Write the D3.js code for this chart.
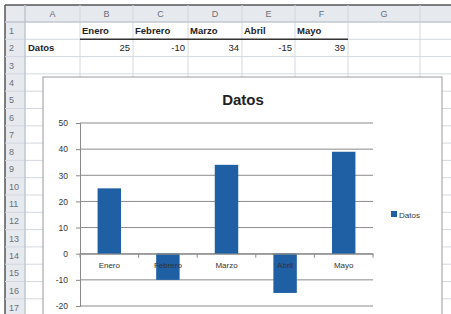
<!DOCTYPE html>
<html><head><meta charset="utf-8">
<script src="https://cdn.jsdelivr.net/npm/d3@7"></script>
<style>html,body{margin:0;padding:0;background:#fff;overflow:hidden}</style>
</head><body>
<svg id="c" width="451" height="314"></svg>
<script>
const categories = ["Enero", "Febrero", "Marzo", "Abril", "Mayo"];
const values = [25, -10, 34, -15, 39];
const seriesName = "Datos";
const yTicks = [-20, -10, 0, 10, 20, 30, 40, 50];
const columnLetters = ["A", "B", "C", "D", "E", "F", "G", ""];
const rowNumbers = d3.range(1, 18);

(function () {
const svg = d3.select("#c");
const font = "'Liberation Sans', Arial, sans-serif";

// ---- Spreadsheet grid ----
const colEdges = [25, 80, 133, 188, 242, 295, 348, 420, 460];
const sheetTop = 5, headH = 17, rowH = 17.3;
const rowTop = i => sheetTop + headH + i * rowH;

svg.append("rect").attr("x", 0).attr("y", 0).attr("width", 451).attr("height", 314).attr("fill", "#fff");
svg.append("rect").attr("x", 5).attr("y", sheetTop).attr("width", 446).attr("height", headH).attr("fill", "#e6e9ee");
svg.append("rect").attr("x", 5).attr("y", sheetTop).attr("width", 20).attr("height", 314).attr("fill", "#e6e9ee");
svg.append("line").attr("x1", 5).attr("x2", 451).attr("y1", sheetTop).attr("y2", sheetTop).attr("stroke", "#555").attr("stroke-width", 1.5);
svg.append("line").attr("x1", 5).attr("x2", 5).attr("y1", sheetTop).attr("y2", 314).attr("stroke", "#555").attr("stroke-width", 1.5);

const g = svg.append("g").attr("stroke", "#d3d8e0").attr("stroke-width", 1);
colEdges.forEach(x => g.append("line").attr("x1", x).attr("x2", x).attr("y1", sheetTop).attr("y2", 314));
rowNumbers.concat([18]).forEach((r, i) => g.append("line").attr("x1", 5).attr("x2", 451).attr("y1", rowTop(i)).attr("y2", rowTop(i)));
svg.append("line").attr("x1", 5).attr("x2", 451).attr("y1", sheetTop + headH).attr("y2", sheetTop + headH).attr("stroke", "#b8bec8");
svg.append("line").attr("x1", 25).attr("x2", 25).attr("y1", sheetTop).attr("y2", 314).attr("stroke", "#b8bec8");

columnLetters.forEach((c, i) => {
  svg.append("text").attr("x", (colEdges[i] + colEdges[i + 1]) / 2).attr("y", sheetTop + 12)
    .attr("text-anchor", "middle").attr("font-family", font).attr("font-size", 9).attr("fill", "#6a6f78").text(c);
});
rowNumbers.forEach((r, i) => {
  svg.append("text").attr("x", 9).attr("y", rowTop(i) + 12)
    .attr("font-family", font).attr("font-size", 9).attr("fill", "#6a6f78").text(r);
});

categories.forEach((c, i) => {
  svg.append("text").attr("x", colEdges[i + 1] + 2).attr("y", rowTop(0) + 12)
    .attr("font-family", font).attr("font-size", 9.5).attr("font-weight", "bold").attr("fill", "#222").text(c);
});
svg.append("line").attr("x1", colEdges[1]).attr("x2", colEdges[6]).attr("y1", rowTop(1)).attr("y2", rowTop(1))
  .attr("stroke", "#333").attr("stroke-width", 1.5);
svg.append("text").attr("x", 28).attr("y", rowTop(1) + 12)
  .attr("font-family", font).attr("font-size", 9.5).attr("font-weight", "bold").attr("fill", "#222").text(seriesName);
values.forEach((v, i) => {
  svg.append("text").attr("x", colEdges[i + 2] - 3).attr("y", rowTop(1) + 12).attr("text-anchor", "end")
    .attr("font-family", font).attr("font-size", 9.5).attr("fill", "#222").text(v);
});

// ---- Chart area ----
svg.append("rect").attr("x", 43).attr("y", 77).attr("width", 399).attr("height", 260)
  .attr("fill", "#fff").attr("stroke", "#9a9a9a").attr("stroke-width", 1);

const x = d3.scaleBand().domain(categories).range([80, 373]).paddingInner(0.6).paddingOuter(0.3);
const y = d3.scaleLinear().domain([-20, 50]).range([306, 123]);

svg.append("g").selectAll("line").data(yTicks).join("line")
  .attr("x1", 80).attr("x2", 373).attr("y1", d => y(d)).attr("y2", d => y(d))
  .attr("stroke", "#8a8a8a").attr("stroke-width", 1);

const yAxis = svg.append("g").attr("transform", "translate(80,0)")
  .call(d3.axisLeft(y).tickValues(yTicks).tickFormat(d => String(d)).tickSize(4).tickPadding(8));
yAxis.select(".domain").attr("stroke", "#8a8a8a");
yAxis.selectAll(".tick line").attr("stroke", "#8a8a8a");
yAxis.selectAll("text").attr("font-family", font).attr("font-size", 8.5).attr("fill", "#333");

svg.append("g").selectAll("rect").data(values).join("rect")
  .attr("x", (d, i) => x(categories[i]))
  .attr("width", x.bandwidth())
  .attr("y", d => y(Math.max(0, d)))
  .attr("height", d => Math.abs(y(d) - y(0)))
  .attr("fill", "#1f5fa3");

const xAxis = svg.append("g").attr("transform", `translate(0,${y(0)})`)
  .call(d3.axisBottom(x).tickSize(0).tickPadding(9));
xAxis.select(".domain").attr("stroke", "#8a8a8a");
xAxis.selectAll("text").attr("font-family", font).attr("font-size", 8).attr("fill", "#333");
const bounds = d3.range(categories.length + 1).map(i => 80 + i * x.step());
svg.append("g").selectAll("line").data(bounds).join("line")
  .attr("x1", d => d).attr("x2", d => d).attr("y1", y(0)).attr("y2", y(0) + 4)
  .attr("stroke", "#8a8a8a");

svg.append("text").attr("x", 243).attr("y", 105).attr("text-anchor", "middle")
  .attr("font-family", font).attr("font-size", 15).attr("font-weight", "bold").attr("fill", "#222").text(seriesName);

svg.append("rect").attr("x", 391).attr("y", 211).attr("width", 6).attr("height", 6).attr("fill", "#1f5fa3");
svg.append("text").attr("x", 399).attr("y", 217.5).attr("font-family", font).attr("font-size", 8).attr("fill", "#333").text(seriesName);
})();
</script>
</body></html>
